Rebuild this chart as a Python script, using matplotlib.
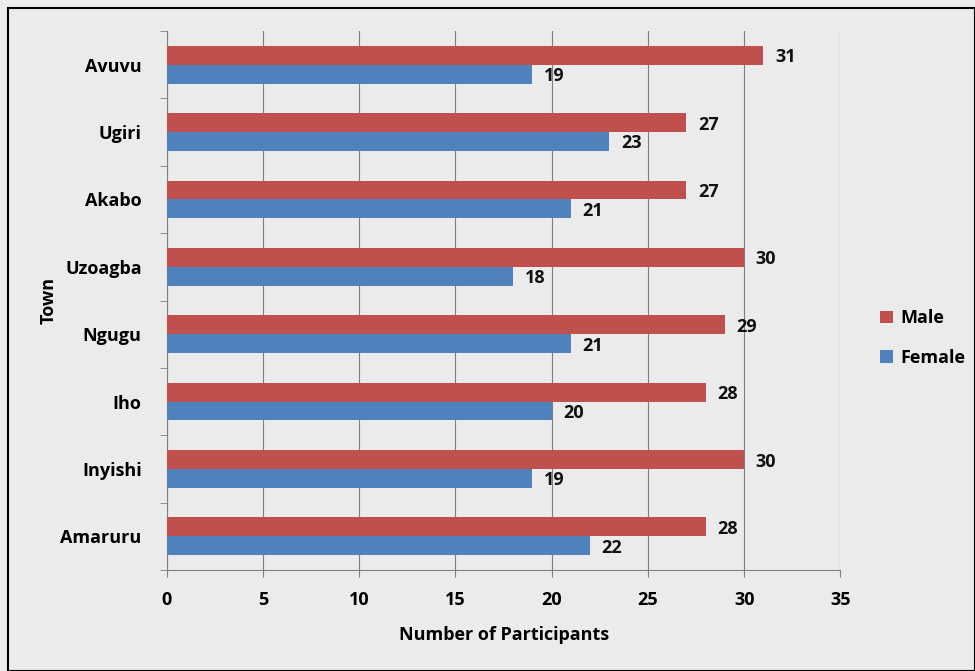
import numpy as np
import matplotlib
matplotlib.use('Agg')
import matplotlib.pyplot as plt
from matplotlib.patches import Rectangle

# Data (bottom to top as drawn)
towns = ['Amaruru', 'Inyishi', 'Iho', 'Ngugu', 'Uzoagba', 'Akabo', 'Ugiri', 'Avuvu']
male = [28, 30, 28, 29, 30, 27, 27, 31]
female = [22, 19, 20, 21, 18, 21, 23, 19]

plt.rcParams['font.family'] = ['Open Sans', 'DejaVu Sans']
plt.rcParams['font.weight'] = 'bold'

fig = plt.figure(figsize=(9.75, 6.71), dpi=100, facecolor='#ebebeb')
ax = fig.add_axes([0.171, 0.1505, 0.691, 0.8033])
ax.set_facecolor('none')

# outer frame
fig.patches.append(Rectangle((0.008, 0.0), 0.992, 0.988, transform=fig.transFigure,
                             fill=False, edgecolor='black', linewidth=1.5))

y = np.arange(len(towns))
h = 0.28
bm = ax.barh(y + h / 2, male, height=h, color='#C0504D', label='Male', zorder=3)
bf = ax.barh(y - h / 2, female, height=h, color='#4F81BD', label='Female', zorder=3)

for bars in (bm, bf):
    for b in bars:
        ax.text(b.get_width() + 0.6, b.get_y() + b.get_height() / 2, str(int(b.get_width())),
                va='center_baseline', ha='left', fontsize=13, fontweight='bold', color='#111111')

ax.set_xlim(0, 35)
ax.set_xticks(range(0, 36, 5))
ax.set_ylim(-0.5, len(towns) - 0.5)
ax.set_yticks(y)
ax.set_yticklabels(towns)
ax.set_yticks(np.arange(-0.5, len(towns), 1), minor=True)
ax.tick_params(axis='y', which='major', length=0, pad=18, labelsize=13)
ax.tick_params(axis='y', which='minor', length=5, color='#808080', direction='out')
ax.tick_params(axis='x', length=5, color='#808080', pad=10, labelsize=13)

ax.grid(axis='x', color='#7f7f7f', linewidth=0.8, zorder=0)
for s in ['top', 'right']:
    ax.spines[s].set_visible(False)
ax.spines['left'].set_color('#808080')
ax.spines['bottom'].set_color('#808080')

ax.set_xlabel('Number of Participants', fontsize=13, fontweight='bold', labelpad=12)
ax.set_ylabel('Town', fontsize=13, fontweight='bold', labelpad=2)

ax.legend(loc='center left', bbox_to_anchor=(1.035, 0.43), frameon=False, fontsize=13,
          handlelength=0.7, handleheight=0.7, handletextpad=0.4, labelspacing=1.2)

fig.savefig('out.png', dpi=100, facecolor=fig.get_facecolor())
